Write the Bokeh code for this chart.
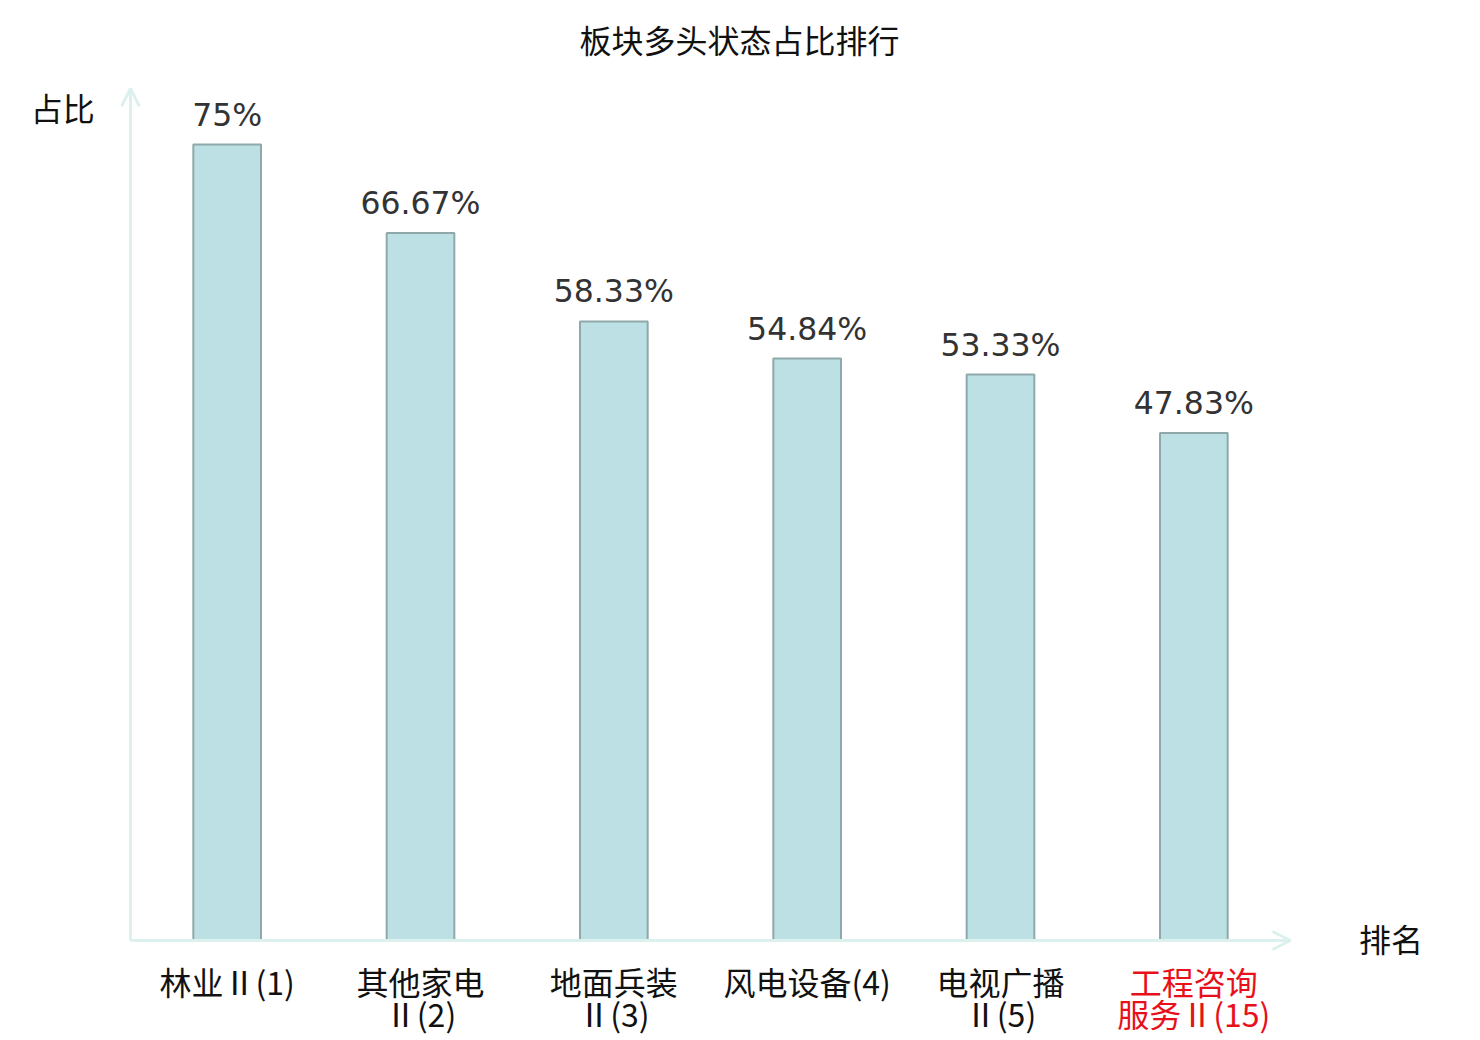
from bokeh.plotting import figure
from bokeh.models import ColumnDataSource, Range1d, Arrow, OpenHead, Label
from bokeh.core.properties import value
from bokeh.embed import file_html
from bokeh.resources import INLINE

categories = ["林业Ⅱ(1)", "其他家电\nⅡ(2)", "地面兵装\nⅡ(3)", "风电设备(4)", "电视广播\nⅡ(5)", "工程咨询\n服务Ⅱ(15)"]
values = [75, 66.67, 58.33, 54.84, 53.33, 47.83]
value_labels = ["75%", "66.67%", "58.33%", "54.84%", "53.33%", "47.83%"]
label_colors = ["#111111", "#111111", "#111111", "#111111", "#111111", "#e8101a"]
title_text = "板块多头状态占比排行"
y_name = "占比"
x_name = "排名"

CJK = "Noto Sans CJK SC"
xs = [i + 0.5 for i in range(len(categories))]
line1 = [c.split("\n")[0] for c in categories]
line2 = [c.split("\n")[1] if "\n" in c else "" for c in categories]
src = ColumnDataSource(dict(x=xs, top=values, vl=value_labels, l1=line1, l2=line2,
                            zero=[0] * len(values), col=label_colors))

W, H = 1472, 1040
px_x = 1160 / 6.0
px_y = 849 / 80.0
x0 = -130 / px_x
x1 = (W - 130) / px_x
y0 = (940 - H) / px_y
y1 = 940 / px_y

p = figure(width=W, height=H, output_backend="svg", toolbar_location=None,
           x_range=Range1d(x0, x1), y_range=Range1d(y0, y1),
           frame_width=W, frame_height=H,
           min_border_left=0, min_border_right=0, min_border_top=0, min_border_bottom=0)
p.xaxis.visible = False
p.yaxis.visible = False
p.xgrid.visible = False
p.ygrid.visible = False
p.outline_line_color = None

axis_col = "#dcf1ee"
p.add_layout(Arrow(x_start=0, y_start=0, x_end=6, y_end=0, line_color=axis_col, line_width=3,
                   end=OpenHead(size=18, line_color=axis_col, line_width=3)))
p.add_layout(Arrow(x_start=0, y_start=0, x_end=0, y_end=80.3, line_color=axis_col, line_width=3,
                   end=OpenHead(size=18, line_color=axis_col, line_width=3)))

p.vbar(x="x", top="top", bottom=0, width=0.35, source=src,
       fill_color="#bce0e3", line_color="#8fa8aa", line_width=2)

p.text(x="x", y="top", text="vl", source=src, text_align="center", text_baseline="middle",
       y_offset=-30, text_font=value("DejaVu Sans"), text_font_size="31.5px", text_color="#333333")

p.text(x="x", y="zero", text="l1", source=src, text_align="center", text_baseline="middle",
       y_offset=40, text_font=value(CJK), text_font_size="32px", text_color="col")
p.text(x="x", y="zero", text="l2", source=src, text_align="center", text_baseline="middle",
       y_offset=72, text_font=value(CJK), text_font_size="32px", text_color="col")

p.add_layout(Label(x=3.15, y=84.9, text=title_text, text_align="center", text_baseline="middle",
                   text_font=CJK, text_font_size="32px", text_color="#111111"))
p.add_layout(Label(x=-0.35, y=78.5, text=y_name, text_align="center", text_baseline="middle",
                   text_font=CJK, text_font_size="32px", text_color="#111111"))
p.add_layout(Label(x=6.52, y=0.2, text=x_name, text_align="center", text_baseline="middle",
                   text_font=CJK, text_font_size="32px", text_color="#111111"))

open("out.html", "w").write(file_html(p, INLINE))
